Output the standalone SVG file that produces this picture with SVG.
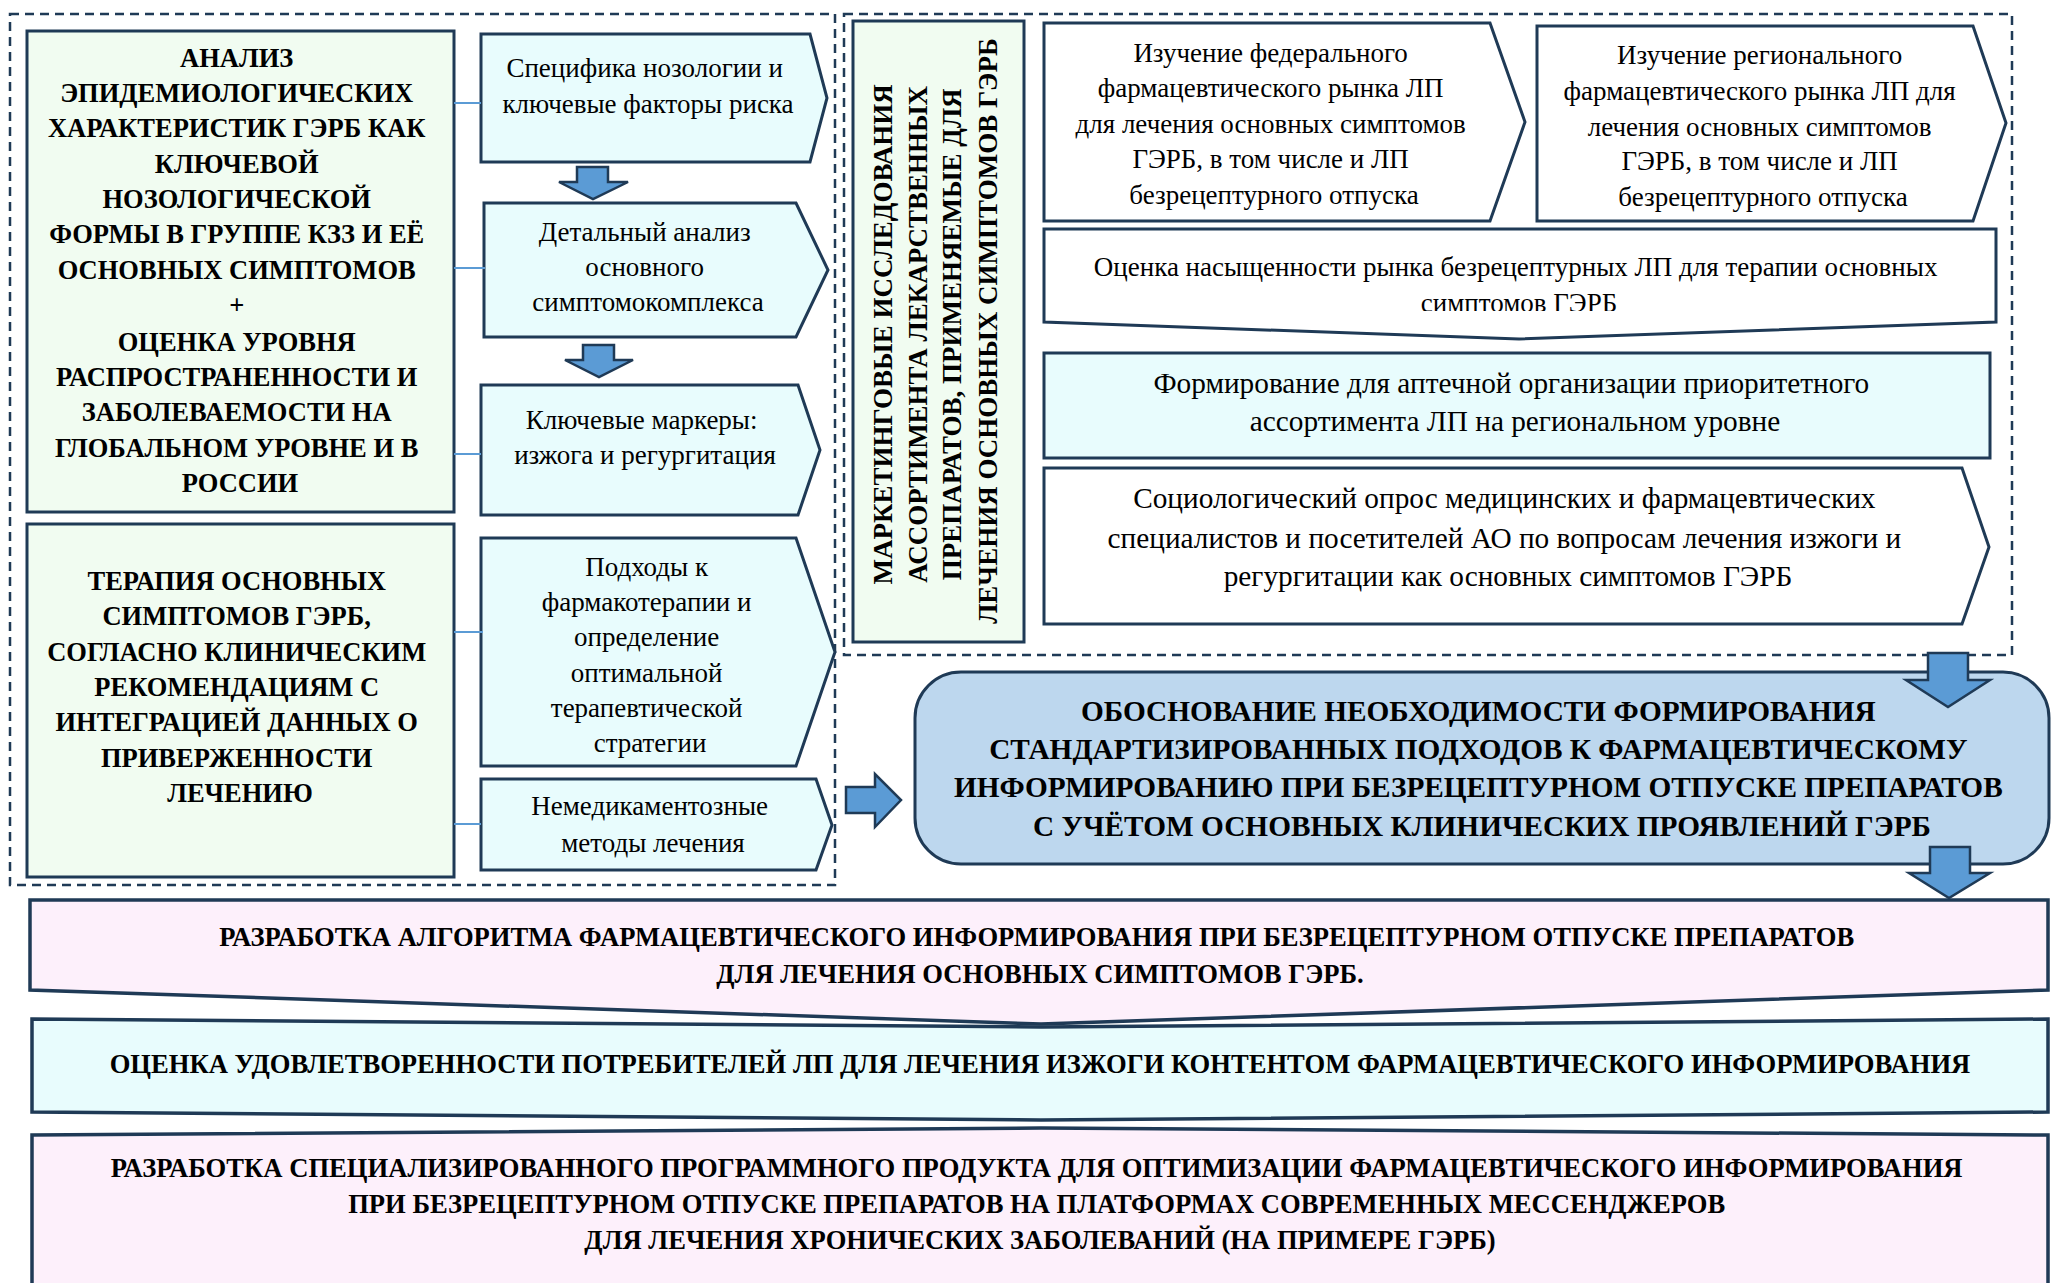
<svg xmlns="http://www.w3.org/2000/svg" width="2051" height="1283" viewBox="0 0 2051 1283">
<defs>
<style>
.bg{fill:#FFFFFF}
.region{fill:none;stroke:#1F3A56;stroke-width:2.5;stroke-dasharray:9 6}
.green{fill:#F1FCF1;stroke:#1F3A56;stroke-width:3}
.cyan{fill:#E8FCFD;stroke:#1F3A56;stroke-width:3}
.white{fill:#FFFFFF;stroke:#1F3A56;stroke-width:3}
.pink{fill:#FDF0FB;stroke:#1F3A56;stroke-width:3.5}
.main{fill:#BDD7EE;stroke:#1F3A56;stroke-width:3}
.arrow{fill:#5B9BD5;stroke:#1F3A56;stroke-width:2.5}
.conn{stroke:#5B9BD5;stroke-width:2;fill:none}
.tb{font-family:"Liberation Serif","Times New Roman",serif;font-weight:bold;fill:#000;text-anchor:middle}
.tr{font-family:"Liberation Serif","Times New Roman",serif;font-weight:normal;fill:#000;text-anchor:middle}
.g{font-size:26.5px}
.v{font-size:27px}
.r{font-size:27px}
.rl{font-size:29.3px}
.m{font-size:29.3px}
.b{font-size:26.6px}
</style>
<clipPath id="clip13"><rect x="1044" y="228" width="960" height="83"/></clipPath>
</defs>
<rect class="bg" x="0" y="0" width="2051" height="1283"/>

<g id="regions">
<rect class="region" x="10" y="14" width="825" height="871"/>
<rect class="region" x="844" y="14" width="1168" height="641"/>
</g>

<g id="node-analysis">
<rect class="green" x="27" y="31" width="427" height="481"/>
<text class="tb g">
<tspan x="240" y="67">АНАЛИЗ</tspan>
<tspan x="240" y="102">ЭПИДЕМИОЛОГИЧЕСКИХ</tspan>
<tspan x="240" y="137">ХАРАКТЕРИСТИК ГЭРБ КАК</tspan>
<tspan x="240" y="173">КЛЮЧЕВОЙ</tspan>
<tspan x="240" y="208">НОЗОЛОГИЧЕСКОЙ</tspan>
<tspan x="240" y="243">ФОРМЫ В ГРУППЕ КЗЗ И ЕЁ</tspan>
<tspan x="240" y="279">ОСНОВНЫХ СИМПТОМОВ</tspan>
<tspan x="240" y="314">+</tspan>
<tspan x="240" y="351">ОЦЕНКА УРОВНЯ</tspan>
<tspan x="240" y="386">РАСПРОСТРАНЕННОСТИ И</tspan>
<tspan x="240" y="421">ЗАБОЛЕВАЕМОСТИ НА</tspan>
<tspan x="240" y="457">ГЛОБАЛЬНОМ УРОВНЕ И В</tspan>
<tspan x="240" y="492">РОССИИ</tspan>
</text>
</g>

<g id="node-therapy">
<rect class="green" x="27" y="524" width="427" height="353"/>
<text class="tb g">
<tspan x="240" y="590">ТЕРАПИЯ ОСНОВНЫХ</tspan>
<tspan x="240" y="625">СИМПТОМОВ ГЭРБ,</tspan>
<tspan x="240" y="661">СОГЛАСНО КЛИНИЧЕСКИМ</tspan>
<tspan x="240" y="696">РЕКОМЕНДАЦИЯМ С</tspan>
<tspan x="240" y="731">ИНТЕГРАЦИЕЙ ДАННЫХ О</tspan>
<tspan x="240" y="767">ПРИВЕРЖЕННОСТИ</tspan>
<tspan x="240" y="802">ЛЕЧЕНИЮ</tspan>
</text>
</g>

<g id="node-nosology">
<path class="cyan" d="M481,34 H810 L827,98 L810,162 H481 Z"/>
<text class="tr r">
<tspan x="648" y="77">Специфика нозологии и</tspan>
<tspan x="648" y="113">ключевые факторы риска</tspan>
</text>
</g>

<g id="node-symptom">
<path class="cyan" d="M484,203 H796 L828,270 L796,337 H484 Z"/>
<text class="tr r">
<tspan x="648" y="241">Детальный анализ</tspan>
<tspan x="648" y="276">основного</tspan>
<tspan x="648" y="311">симптомокомплекса</tspan>
</text>
</g>

<g id="node-markers">
<path class="cyan" d="M481,385 H798 L820,450 L798,515 H481 Z"/>
<text class="tr r">
<tspan x="645" y="429">Ключевые маркеры:</tspan>
<tspan x="645" y="464">изжога и регургитация</tspan>
</text>
</g>

<g id="node-pharmaco">
<path class="cyan" d="M481,538 H796 L835,652 L796,766 H481 Z"/>
<text class="tr r">
<tspan x="650" y="576">Подходы к</tspan>
<tspan x="650" y="611">фармакотерапии и</tspan>
<tspan x="650" y="646">определение</tspan>
<tspan x="650" y="682">оптимальной</tspan>
<tspan x="650" y="717">терапевтической</tspan>
<tspan x="650" y="752">стратегии</tspan>
</text>
</g>

<g id="node-nondrug">
<path class="cyan" d="M481,779 H816 L832,825 L816,870 H481 Z"/>
<text class="tr r">
<tspan x="653" y="815">Немедикаментозные</tspan>
<tspan x="653" y="852">методы лечения</tspan>
</text>
</g>

<g id="node-marketing">
<rect class="green" x="853" y="21" width="171" height="621"/>
<text class="tb v" transform="translate(938,331) rotate(-90)">
<tspan x="0" y="-46">МАРКЕТИНГОВЫЕ ИССЛЕДОВАНИЯ</tspan>
<tspan x="0" y="-11">АССОРТИМЕНТА ЛЕКАРСТВЕННЫХ</tspan>
<tspan x="0" y="23">ПРЕПАРАТОВ, ПРИМЕНЯЕМЫЕ ДЛЯ</tspan>
<tspan x="0" y="59">ЛЕЧЕНИЯ ОСНОВНЫХ СИМПТОМОВ ГЭРБ</tspan>
</text>
</g>

<g id="node-federal">
<path class="white" d="M1044,23 H1490 L1525,122 L1490,221 H1044 Z"/>
<text class="tr r">
<tspan x="1274" y="62">Изучение федерального</tspan>
<tspan x="1274" y="97">фармацевтического рынка ЛП</tspan>
<tspan x="1274" y="133">для лечения основных симптомов</tspan>
<tspan x="1274" y="168">ГЭРБ, в том числе и ЛП</tspan>
<tspan x="1274" y="204">безрецептурного отпуска</tspan>
</text>
</g>

<g id="node-regional">
<path class="white" d="M1537,26 H1973 L2006,123 L1973,221 H1537 Z"/>
<text class="tr r">
<tspan x="1763" y="64">Изучение регионального</tspan>
<tspan x="1763" y="100">фармацевтического рынка ЛП для</tspan>
<tspan x="1763" y="136">лечения основных симптомов</tspan>
<tspan x="1763" y="170">ГЭРБ, в том числе и ЛП</tspan>
<tspan x="1763" y="206">безрецептурного отпуска</tspan>
</text>
</g>

<g id="node-saturation">
<path class="white" d="M1044,229 H1996 V322 L1519,339 L1044,322 Z"/>
<text class="tr r" clip-path="url(#clip13)">
<tspan x="1519" y="276">Оценка насыщенности рынка безрецептурных ЛП для терапии основных</tspan>
<tspan x="1519" y="312">симптомов ГЭРБ</tspan>
</text>
</g>

<g id="node-assortment">
<rect class="cyan" x="1044" y="353" width="946" height="105"/>
<text class="tr rl">
<tspan x="1515" y="393">Формирование для аптечной организации приоритетного</tspan>
<tspan x="1515" y="431">ассортимента ЛП на региональном уровне</tspan>
</text>
</g>

<g id="node-survey">
<path class="white" d="M1044,468 H1962 L1989,547 L1962,624 H1044 Z"/>
<text class="tr rl">
<tspan x="1508" y="508">Социологический опрос медицинских и фармацевтических</tspan>
<tspan x="1508" y="548">специалистов и посетителей АО по вопросам лечения изжоги и</tspan>
<tspan x="1508" y="586">регургитации как основных симптомов ГЭРБ</tspan>
</text>
</g>

<g id="node-justification">
<rect class="main" x="915" y="672" width="1134" height="192" rx="46" ry="46"/>
<text class="tb m">
<tspan x="1482" y="721">ОБОСНОВАНИЕ НЕОБХОДИМОСТИ ФОРМИРОВАНИЯ</tspan>
<tspan x="1482" y="759">СТАНДАРТИЗИРОВАННЫХ ПОДХОДОВ К ФАРМАЦЕВТИЧЕСКОМУ</tspan>
<tspan x="1482" y="797">ИНФОРМИРОВАНИЮ ПРИ БЕЗРЕЦЕПТУРНОМ ОТПУСКЕ ПРЕПАРАТОВ</tspan>
<tspan x="1482" y="836">С УЧЁТОМ ОСНОВНЫХ КЛИНИЧЕСКИХ ПРОЯВЛЕНИЙ ГЭРБ</tspan>
</text>
</g>

<g id="node-algorithm">
<path class="pink" d="M30,900 H2048 V990 L1041,1024 L30,990 Z"/>
<text class="tb b">
<tspan x="1040" y="946">РАЗРАБОТКА АЛГОРИТМА ФАРМАЦЕВТИЧЕСКОГО ИНФОРМИРОВАНИЯ ПРИ БЕЗРЕЦЕПТУРНОМ ОТПУСКЕ ПРЕПАРАТОВ</tspan>
<tspan x="1040" y="983">ДЛЯ ЛЕЧЕНИЯ ОСНОВНЫХ СИМПТОМОВ ГЭРБ.</tspan>
</text>
</g>

<g id="node-satisfaction">
<path class="cyan" style="stroke-width:3.5" d="M32,1019 L1041,1027 L2048,1019 V1112 L1041,1120 L32,1112 Z"/>
<text class="tb b">
<tspan x="1040" y="1073">ОЦЕНКА УДОВЛЕТВОРЕННОСТИ ПОТРЕБИТЕЛЕЙ ЛП ДЛЯ ЛЕЧЕНИЯ ИЗЖОГИ КОНТЕНТОМ ФАРМАЦЕВТИЧЕСКОГО ИНФОРМИРОВАНИЯ</tspan>
</text>
</g>

<g id="node-software">
<path class="pink" d="M32,1135 L1041,1128 L2048,1135 V1295 H32 Z"/>
<text class="tb b">
<tspan x="1040" y="1177">РАЗРАБОТКА СПЕЦИАЛИЗИРОВАННОГО ПРОГРАММНОГО ПРОДУКТА ДЛЯ ОПТИМИЗАЦИИ ФАРМАЦЕВТИЧЕСКОГО ИНФОРМИРОВАНИЯ</tspan>
<tspan x="1040" y="1213">ПРИ БЕЗРЕЦЕПТУРНОМ ОТПУСКЕ ПРЕПАРАТОВ НА ПЛАТФОРМАХ СОВРЕМЕННЫХ МЕССЕНДЖЕРОВ</tspan>
<tspan x="1040" y="1249">ДЛЯ ЛЕЧЕНИЯ ХРОНИЧЕСКИХ ЗАБОЛЕВАНИЙ (НА ПРИМЕРЕ ГЭРБ)</tspan>
</text>
</g>

<g id="connectors">
<line class="conn" x1="454" y1="103" x2="481" y2="103"/>
<line class="conn" x1="454" y1="268" x2="485" y2="268"/>
<line class="conn" x1="454" y1="454" x2="481" y2="454"/>
<line class="conn" x1="454" y1="632" x2="483" y2="632"/>
<line class="conn" x1="454" y1="824" x2="481" y2="824"/>
<path class="arrow" d="M577,167 H608 V182 H628 L593,199 L559,182 H577 Z"/>
<path class="arrow" d="M583,345 H614 V360 H633 L599,377 L565,360 H583 Z"/>
<path class="arrow" d="M846,787 H875 V774 L901,800 L875,827 V813 H846 Z"/>
<path class="arrow" d="M1928,653 H1968 V680 H1990 L1948,707 L1906,680 H1928 Z"/>
<path class="arrow" d="M1930,847 H1970 V873 H1990 L1949,898 L1909,873 H1930 Z"/>
</g>
</svg>
